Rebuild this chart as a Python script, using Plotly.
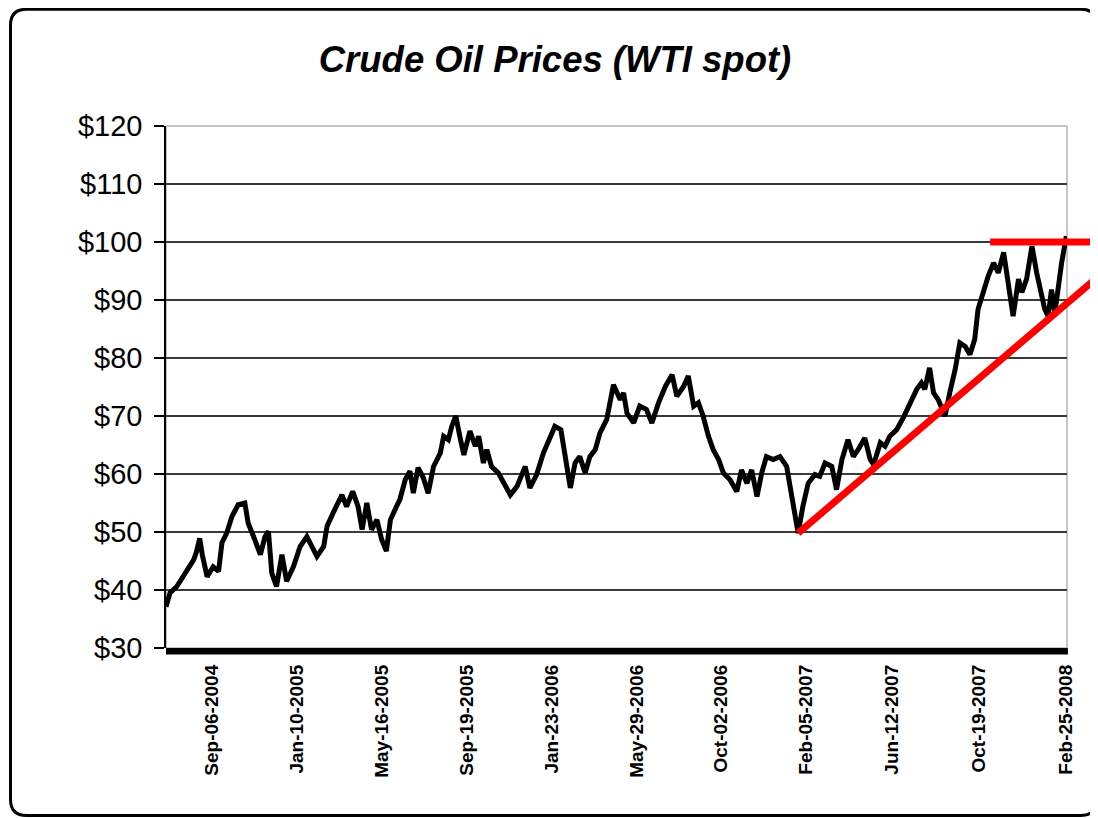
import plotly.graph_objects as go
import pandas as pd

# ---------------- data ----------------
dates = [
    "2004-06-30", "2004-07-06", "2004-07-16", "2004-07-31", "2004-08-10", "2004-08-14",
    "2004-08-19", "2004-08-23", "2004-08-30", "2004-09-08", "2004-09-16", "2004-09-21",
    "2004-09-28", "2004-10-06", "2004-10-15", "2004-10-25", "2004-10-30", "2004-11-07",
    "2004-11-17", "2004-11-24", "2004-11-29", "2004-12-04", "2004-12-11", "2004-12-19",
    "2004-12-26", "2005-01-05", "2005-01-15", "2005-01-25", "2005-02-01", "2005-02-09",
    "2005-02-19", "2005-02-24", "2005-03-05", "2005-03-18", "2005-03-25", "2005-04-03",
    "2005-04-11", "2005-04-17", "2005-04-24", "2005-05-01", "2005-05-09", "2005-05-16",
    "2005-05-23", "2005-05-29", "2005-06-07", "2005-06-12", "2005-06-20", "2005-06-27",
    "2005-07-02", "2005-07-09", "2005-07-17", "2005-07-24", "2005-08-01", "2005-08-11",
    "2005-08-16", "2005-08-23", "2005-08-28", "2005-09-03", "2005-09-09", "2005-09-15",
    "2005-09-24", "2005-10-02", "2005-10-07", "2005-10-14", "2005-10-19", "2005-10-26",
    "2005-11-05", "2005-11-15", "2005-11-23", "2005-12-03", "2005-12-15", "2005-12-22",
    "2006-01-01", "2006-01-11", "2006-01-21", "2006-01-28", "2006-02-06", "2006-02-12",
    "2006-02-20", "2006-02-27", "2006-03-06", "2006-03-14", "2006-03-21", "2006-03-29",
    "2006-04-05", "2006-04-15", "2006-04-25", "2006-05-05", "2006-05-10", "2006-05-15",
    "2006-05-25", "2006-06-03", "2006-06-13", "2006-06-21", "2006-07-01", "2006-07-11",
    "2006-07-21", "2006-07-28", "2006-08-07", "2006-08-14", "2006-08-22", "2006-08-29",
    "2006-09-05", "2006-09-13", "2006-09-20", "2006-09-28", "2006-10-05", "2006-10-15",
    "2006-10-25", "2006-11-01", "2006-11-09", "2006-11-16", "2006-11-24", "2006-12-01",
    "2006-12-08", "2006-12-18", "2006-12-28", "2007-01-07", "2007-01-14", "2007-01-19",
    "2007-01-24", "2007-01-31", "2007-02-08", "2007-02-18", "2007-02-25", "2007-03-05",
    "2007-03-15", "2007-03-22", "2007-03-30", "2007-04-08", "2007-04-16", "2007-04-23",
    "2007-05-03", "2007-05-11", "2007-05-16", "2007-05-26", "2007-06-02", "2007-06-09",
    "2007-06-19", "2007-06-29", "2007-07-09", "2007-07-19", "2007-07-26", "2007-07-31",
    "2007-08-07", "2007-08-13", "2007-08-20", "2007-08-25", "2007-08-30", "2007-09-06",
    "2007-09-14", "2007-09-21", "2007-09-29", "2007-10-06", "2007-10-13", "2007-10-18",
    "2007-10-26", "2007-11-02", "2007-11-10", "2007-11-17", "2007-11-25", "2007-11-30",
    "2007-12-04", "2007-12-09", "2007-12-17", "2007-12-22", "2007-12-29", "2008-01-06",
    "2008-01-13", "2008-01-20", "2008-01-25", "2008-01-30", "2008-02-04", "2008-02-09",
    "2008-02-14", "2008-02-19", "2008-02-26",
]
prices = [
    37.1, 39.5, 40.6, 43.2, 45.2, 46.5,
    48.9, 46.0, 42.3, 44.0, 43.2, 48.1,
    49.8, 52.7, 54.7, 55.0, 51.5, 49.2,
    46.1, 49.2, 50.1, 42.9, 40.6, 46.1,
    41.5, 44.0, 47.5, 49.2, 47.5, 45.8,
    47.5, 51.0, 53.3, 56.4, 54.4, 57.0,
    54.4, 50.4, 55.0, 50.4, 52.1, 48.7,
    46.7, 52.1, 54.4, 55.6, 59.0, 60.5,
    56.7, 61.1, 59.3, 56.7, 61.3, 63.6,
    66.5, 65.9, 68.2, 70.0, 66.5, 63.3,
    67.4, 64.8, 66.5, 61.9, 64.2, 61.3,
    60.2, 57.9, 56.4, 57.9, 61.3, 57.6,
    59.9, 63.6, 66.5, 68.2, 67.6, 63.6,
    57.6, 61.9, 63.0, 60.2, 63.0, 64.2,
    67.1, 69.4, 75.4, 72.8, 74.0, 70.5,
    68.8, 71.7, 71.1, 68.8, 72.3, 75.1,
    77.1, 73.4, 75.1, 76.9, 71.7, 72.3,
    70.0, 66.5, 64.2, 62.5, 60.2, 59.0,
    57.0, 60.7, 58.4, 60.7, 56.1, 60.2,
    63.0, 62.5, 63.0, 61.3, 56.7, 53.3,
    49.8, 54.4, 58.4, 59.9, 59.6, 61.9,
    61.3, 57.3, 62.5, 65.9, 63.0, 64.2,
    66.2, 62.5, 61.6, 65.4, 64.8, 66.5,
    67.6, 69.7, 72.3, 74.6, 75.7, 74.6,
    78.3, 74.0, 72.8, 71.1, 70.0, 74.0,
    78.0, 82.6, 82.0, 80.6, 83.2, 88.4,
    91.8, 94.1, 96.4, 94.7, 98.2, 94.7,
    90.7, 87.2, 93.6, 91.3, 93.6, 99.3,
    94.7, 90.7, 88.4, 87.2, 91.8, 87.8,
    93.0, 96.4, 101.0,
]

tick_dates = ["2004-09-06", "2005-01-10", "2005-05-16", "2005-09-19", "2006-01-23",
              "2006-05-29", "2006-10-02", "2007-02-05", "2007-06-12", "2007-10-19",
              "2008-02-25"]
tick_labels = ["Sep-06-2004", "Jan-10-2005", "May-16-2005", "Sep-19-2005", "Jan-23-2006",
               "May-29-2006", "Oct-02-2006", "Feb-05-2007", "Jun-12-2007", "Oct-19-2007",
               "Feb-25-2008"]

# red hand-drawn trend lines (support and resistance)
support_dates = ["2007-01-24", "2008-04-13"]
support_prices = [49.8, 94.0]
resist_dates = ["2007-11-05", "2008-04-13"]
resist_prices = [100.0, 100.0]

title_text = "Crude Oil Prices (WTI spot)"

# ---------------- layout geometry (figure px; page adds an 8px body margin) ----------------
W, H = 1090, 810
PL, PR_PLOT, PT, PB = 158, 1059, 118, 640   # visible plot area
FULL_R = W                                   # overlay area reaches the right edge
x_start = pd.Timestamp("2004-06-30")
x_end = pd.Timestamp("2008-02-27")
frac = (PR_PLOT - PL) / (FULL_R - PL)
x2_end = x_start + (x_end - x_start) / frac

FONT = "Liberation Sans, Arial, sans-serif"

fig = go.Figure()
fig.add_trace(go.Scatter(
    x=dates, y=prices, mode="lines",
    line=dict(color="black", width=5),
    xaxis="x", yaxis="y", showlegend=False, hoverinfo="skip",
))
fig.add_trace(go.Scatter(
    x=support_dates, y=support_prices, mode="lines",
    line=dict(color="#ff0000", width=7),
    xaxis="x2", yaxis="y2", showlegend=False, hoverinfo="skip",
))
fig.add_trace(go.Scatter(
    x=resist_dates, y=resist_prices, mode="lines",
    line=dict(color="#ff0000", width=7),
    xaxis="x2", yaxis="y2", showlegend=False, hoverinfo="skip",
))

plot_h = PB - PT
plot_w = FULL_R - PL


def px_x(p):
    return (p - PL) / plot_w


def px_y(p):
    return (PB - p) / plot_h


# rounded outer border of the chart object
bx0, bx1, by0, by1, r = 2.5, 1088.8, 1.2, 807.5, 16
path = (
    f"M {px_x(bx0 + r)},{px_y(by0)} L {px_x(bx1 - r)},{px_y(by0)} "
    f"Q {px_x(bx1)},{px_y(by0)} {px_x(bx1)},{px_y(by0 + r)} "
    f"L {px_x(bx1)},{px_y(by1 - r)} Q {px_x(bx1)},{px_y(by1)} {px_x(bx1 - r)},{px_y(by1)} "
    f"L {px_x(bx0 + r)},{px_y(by1)} Q {px_x(bx0)},{px_y(by1)} {px_x(bx0)},{px_y(by1 - r)} "
    f"L {px_x(bx0)},{px_y(by0 + r)} Q {px_x(bx0)},{px_y(by0)} {px_x(bx0 + r)},{px_y(by0)} Z"
)

shapes = [
    # plot-area frame (grey top / right)
    dict(type="rect", xref="x domain", yref="y domain", x0=0, x1=1, y0=0, y1=1,
         line=dict(color="#8c8c8c", width=1), layer="below"),
    # thick category axis line under the plot
    dict(type="rect", xref="x domain", yref="y domain", x0=0, x1=1.001,
         y0=0, y1=-6.5 / (PB - PT), fillcolor="black", line=dict(width=0), layer="above"),
    dict(type="path", xref="paper", yref="paper", path=path,
         line=dict(color="black", width=3), layer="above"),
]

fig.update_layout(
    width=W, height=H,
    margin=dict(l=PL, r=W - FULL_R, t=PT, b=H - PB, pad=0),
    paper_bgcolor="white", plot_bgcolor="rgba(0,0,0,0)",
    font=dict(family=FONT, color="black"),
    title=dict(
        text=title_text, x=547 / W, xref="container", xanchor="center",
        y=1 - 51 / H, yref="container", yanchor="middle",
        font=dict(family=FONT, size=36.5, weight="bold", style="italic", color="black"),
    ),
    xaxis=dict(
        type="date", domain=[0, frac], range=[x_start, x_end],
        tickvals=tick_dates, ticktext=tick_labels, tickangle=-90,
        tickfont=dict(family=FONT, size=19, weight="bold", color="black"),
        ticks="", showgrid=False, showline=False, zeroline=False,
        ticklabelstandoff=12, automargin=False, anchor="y",
    ),
    yaxis=dict(
        range=[30, 120], tick0=30, dtick=10, tickprefix="$",
        tickfont=dict(family=FONT, size=29, color="black"),
        ticks="outside", ticklen=10, tickwidth=1.5, tickcolor="black",
        showline=True, linecolor="black", linewidth=1.5,
        showgrid=True, gridcolor="#3a3a3a", gridwidth=1.6, zeroline=False,
        ticklabelstandoff=6, automargin=False, anchor="x", domain=[0, 1],
    ),
    xaxis2=dict(
        type="date", domain=[0, 1], range=[x_start, x2_end], visible=False,
        anchor="y2", fixedrange=True,
    ),
    yaxis2=dict(
        range=[30, 120], domain=[0, 1], visible=False, anchor="x2", fixedrange=True,
    ),
    shapes=shapes,
)

fig.write_html("out.html")
